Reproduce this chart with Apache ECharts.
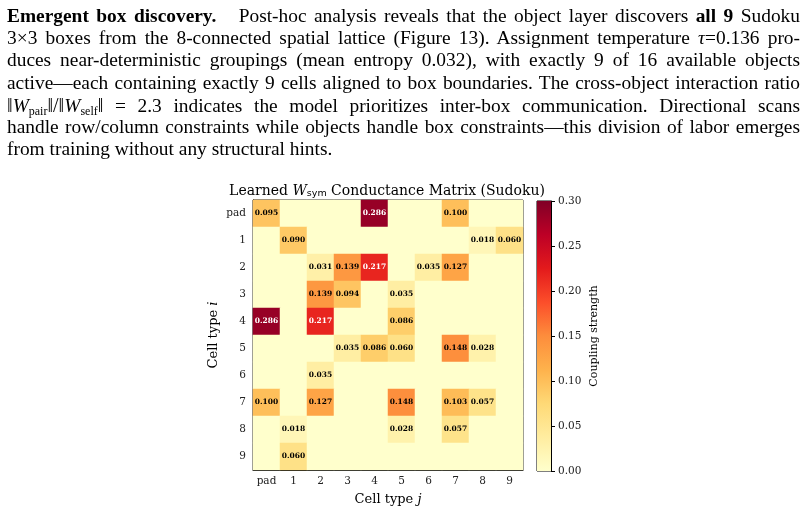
<!DOCTYPE html>
<html>
<head>
<meta charset="utf-8">
<script src="https://cdn.jsdelivr.net/npm/echarts@6/dist/echarts.min.js"></script>
<style>
  body { margin: 0; background: #fff; }
  #wrap { position: relative; width: 805px; height: 511px; overflow: hidden; }
  #chart { position: absolute; left: 0; top: 0; width: 805px; height: 511px; }
  #para {
    position: absolute; left: 7px; top: 5px; width: 793px;
    font-family: "Liberation Serif", serif; font-size: 19.4px; line-height: 22.2px; color: #000;
    word-spacing: -1.5px;
  }
  #para .ln { text-align: justify; text-align-last: justify; height: 22.2px; }
  #para .ln.last { text-align-last: left; word-spacing: 0; }
  #para sub { font-size: 12px; vertical-align: -3px; line-height: 0; }
  #para .nrm { font-size: 20px; }
</style>
</head>
<body>
<div id="wrap">
  <div id="chart"></div>
  <div id="para">
    <div class="ln"><b>Emergent box discovery.</b>&nbsp;&nbsp; Post-hoc analysis reveals that the object layer discovers <b>all 9</b> Sudoku</div>
    <div class="ln">3×3 boxes from the 8-connected spatial lattice (Figure 13). Assignment temperature <i>τ</i>=0.136 pro-</div>
    <div class="ln">duces near-deterministic groupings (mean entropy 0.032), with exactly 9 of 16 available objects</div>
    <div class="ln">active—each containing exactly 9 cells aligned to box boundaries. The cross-object interaction ratio</div>
    <div class="ln"><span class="nrm">‖</span><i>W</i><sub>pair</sub><span class="nrm">‖/‖</span><i>W</i><sub>self</sub><span class="nrm">‖</span> = 2.3 indicates the model prioritizes inter-box communication. Directional scans</div>
    <div class="ln">handle row/column constraints while objects handle box constraints—this division of labor emerges</div>
    <div class="ln last">from training without any structural hints.</div>
  </div>
</div>
<script>
  // cell types (rows i, columns j)
  var cellTypes = ['pad', '1', '2', '3', '4', '5', '6', '7', '8', '9'];
  // learned conductance matrix, rows = i, columns = j
  var wRows = [
    [0.095, 0, 0, 0, 0.286, 0, 0, 0.100, 0, 0],
    [0, 0.090, 0, 0, 0, 0, 0, 0, 0.018, 0.060],
    [0, 0, 0.031, 0.139, 0.217, 0, 0.035, 0.127, 0, 0],
    [0, 0, 0.139, 0.094, 0, 0.035, 0, 0, 0, 0],
    [0.286, 0, 0.217, 0, 0, 0.086, 0, 0, 0, 0],
    [0, 0, 0, 0.035, 0.086, 0.060, 0, 0.148, 0.028, 0],
    [0, 0, 0.035, 0, 0, 0, 0, 0, 0, 0],
    [0.100, 0, 0.127, 0, 0, 0.148, 0, 0.103, 0.057, 0],
    [0, 0.018, 0, 0, 0, 0.028, 0, 0.057, 0, 0],
    [0, 0.060, 0, 0, 0, 0, 0, 0, 0, 0]
  ];
  var cbTicks = [0, 0.05, 0.10, 0.15, 0.20, 0.25, 0.30];
  var ylorrd = ['#ffffcc', '#ffeda0', '#fed976', '#feb24c', '#fd8d3c', '#fc4e2a', '#e31a1c', '#bd0026', '#800026'];

  var cells = [];
  wRows.forEach(function (row, i) {
    row.forEach(function (v, j) {
      cells.push({
        value: [j, i, v],
        label: { color: v > 0.15 ? '#fff' : '#000' }
      });
    });
  });

  var serif = 'DejaVu Serif';
  var chart = echarts.init(document.getElementById('chart'));
  // colorbar gradient, top = max
  var gradStops = ylorrd.map(function (c, k) {
    return { offset: 1 - k / (ylorrd.length - 1), color: c };
  }).reverse();

  var option = {
    animation: false,
    title: {
      text: 'Learned {it|W}{sub|sym} Conductance Matrix (Sudoku)',
      left: 382, top: 178, textAlign: 'center',
      textStyle: {
        fontFamily: serif, fontSize: 14, fontWeight: 'normal', color: '#000',
        rich: {
          it: { fontFamily: serif, fontSize: 14, fontStyle: 'italic', color: '#000' },
          sub: { fontFamily: 'DejaVu Sans', fontSize: 9.5, color: '#000', padding: [6, 0, 0, 0] }
        }
      }
    },
    grid: [
      { left: 253, top: 200, width: 270, height: 271, show: true, borderColor: '#000', borderWidth: 1, backgroundColor: 'transparent' },
      { left: 537, top: 201, width: 14, height: 270, show: true, borderColor: '#000', borderWidth: 1, backgroundColor: 'transparent' }
    ],
    xAxis: [
      {
        type: 'category', data: cellTypes, gridIndex: 0,
        name: 'Cell type {it|j}', nameLocation: 'middle', nameGap: 23,
        nameTextStyle: { fontFamily: serif, fontSize: 13, color: '#000', rich: { it: { fontFamily: serif, fontSize: 13, fontStyle: 'italic', color: '#000' } } },
        axisLine: { lineStyle: { color: '#000' } },
        axisTick: { alignWithLabel: true, length: 4, lineStyle: { color: '#000' } },
        axisLabel: { fontFamily: serif, fontSize: 10.5, color: '#222', margin: 6 },
        splitLine: { show: false }
      },
      { type: 'category', data: ['cb'], gridIndex: 1, show: false }
    ],
    yAxis: [
      {
        type: 'category', data: cellTypes, gridIndex: 0, inverse: true,
        name: 'Cell type {it|i}', nameLocation: 'middle', nameGap: 33, nameRotate: 90,
        nameTextStyle: { fontFamily: serif, fontSize: 13, color: '#000', rich: { it: { fontFamily: serif, fontSize: 13, fontStyle: 'italic', color: '#000' } } },
        axisLine: { lineStyle: { color: '#000' } },
        axisTick: { alignWithLabel: true, length: 4, lineStyle: { color: '#000' } },
        axisLabel: { fontFamily: serif, fontSize: 10.5, color: '#222', margin: 7 },
        splitLine: { show: false }
      },
      {
        type: 'value', gridIndex: 1, position: 'right', min: 0, max: 0.3, interval: 0.05,
        name: 'Coupling strength', nameLocation: 'middle', nameGap: 38, nameRotate: 90,
        nameTextStyle: { fontFamily: serif, fontSize: 11, color: '#000' },
        axisLine: { show: true, lineStyle: { color: '#000' } },
        axisTick: { show: true, length: 4, lineStyle: { color: '#000' } },
        axisLabel: {
          fontFamily: serif, fontSize: 10.5, color: '#222', margin: 7,
          formatter: function (v) { return v.toFixed(2); }
        },
        splitLine: { show: false }
      }
    ],
    visualMap: {
      show: false, seriesIndex: 0, min: 0, max: 0.3, dimension: 2,
      inRange: { color: ylorrd }
    },
    series: [
      {
        type: 'heatmap', xAxisIndex: 0, yAxisIndex: 0, data: cells,
        itemStyle: { borderWidth: 0 },
        label: {
          show: true, fontFamily: serif, fontSize: 7.5, fontWeight: 'bold',
          formatter: function (p) { return p.value[2] > 0 ? p.value[2].toFixed(3) : ''; }
        },
        emphasis: { disabled: true }
      },
      {
        type: 'bar', xAxisIndex: 1, yAxisIndex: 1, data: [cbTicks[cbTicks.length - 1]],
        barWidth: '100%', silent: true,
        itemStyle: { color: new echarts.graphic.LinearGradient(0, 0, 0, 1, gradStops) }
      }
    ]
  };
  chart.setOption(option);
</script>
</body>
</html>
